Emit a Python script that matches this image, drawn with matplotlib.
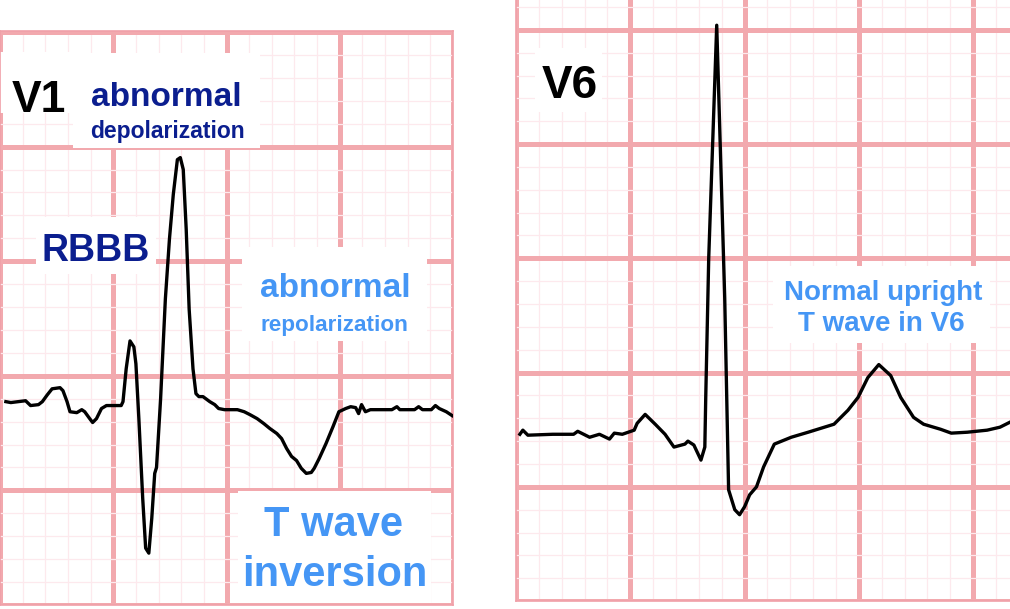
import matplotlib
matplotlib.use("Agg")
import matplotlib.pyplot as plt
from matplotlib.patches import Rectangle
import numpy as np

plt.rcParams['font.family'] = ['Liberation Sans', 'DejaVu Sans']

# ECG traces, in mm of ECG paper (1 small box = 1 mm)
v1_x = [0.26, 0.48, 1.13, 1.35, 1.70, 1.87, 2.09, 2.30, 2.65, 2.78, 2.96, 3.09, 3.39, 3.61,
        3.74, 3.96, 4.09, 4.26, 4.48, 4.70, 5.35, 5.43, 5.57, 5.74, 5.91, 6.00, 6.13, 6.30,
        6.43, 6.57, 6.70, 6.83, 6.91, 7.09, 7.30, 7.48, 7.65, 7.83, 7.96, 8.09, 8.22, 8.35,
        8.52, 8.65, 8.78, 8.96, 9.26, 9.48, 9.65, 9.91, 10.48, 10.78, 11.04, 11.35, 11.65,
        11.91, 12.22, 12.43, 12.65, 12.87, 13.09, 13.30, 13.52, 13.74, 13.87, 14.09, 14.39,
        14.70, 14.96, 15.26, 15.48, 15.70, 15.83, 15.96, 16.13, 16.35, 16.78, 17.30, 17.52,
        17.65, 18.30, 18.48, 18.65, 19.04, 19.22, 19.39, 19.70, 19.96]
v1_y = [8.87, 8.83, 8.91, 8.70, 8.74, 8.87, 9.17, 9.43, 9.48, 9.35, 8.87, 8.43, 8.39, 8.52,
        8.43, 8.13, 7.96, 8.13, 8.57, 8.70, 8.70, 8.87, 10.30, 11.52, 11.26, 10.52, 8.13, 4.65,
        2.48, 2.26, 3.78, 5.74, 6.00, 9.00, 13.35, 15.96, 17.91, 19.43, 19.52, 19.00, 16.39, 12.91,
        10.30, 9.22, 9.09, 9.09, 8.87, 8.74, 8.57, 8.52, 8.52, 8.43, 8.30, 8.13, 7.91,
        7.70, 7.48, 7.26, 6.83, 6.48, 6.30, 5.96, 5.74, 5.78, 5.96, 6.39, 7.04,
        7.78, 8.43, 8.57, 8.65, 8.61, 8.35, 8.74, 8.43, 8.52, 8.52, 8.52, 8.65,
        8.52, 8.52, 8.65, 8.52, 8.52, 8.70, 8.57, 8.43, 8.26]

v6_x = [0.17, 0.30, 0.52, 1.61, 2.52, 2.70, 3.22, 3.65, 4.09, 4.30, 4.65, 5.17, 5.30, 5.65,
        6.09, 6.52, 6.91, 7.39, 7.52, 7.78, 8.09, 8.26, 8.30, 8.43, 8.78, 9.13, 9.30, 9.57,
        9.78, 10.00, 10.22, 10.52, 10.83, 11.30, 12.04, 12.78, 13.91, 14.52, 14.96, 15.39,
        15.87, 16.39, 16.83, 17.39, 17.83, 18.57, 19.04, 19.74, 20.61, 21.17, 21.61]
v6_y = [7.30, 7.48, 7.26, 7.30, 7.30, 7.43, 7.17, 7.30, 7.09, 7.35, 7.30, 7.48, 7.78, 8.17,
        7.74, 7.30, 6.74, 6.87, 7.00, 6.83, 6.17, 6.74, 8.91, 15.00, 25.20, 13.26, 4.87, 4.00,
        3.78, 4.13, 4.65, 5.00, 5.87, 6.87, 7.17, 7.39, 7.74, 8.35, 8.91, 9.78,
        10.35, 9.87, 8.91, 8.04, 7.74, 7.52, 7.35, 7.39, 7.48, 7.61, 7.83]

NAVY = '#0b1e8f'
LIGHT = '#4596f5'
MAJOR = '#f2a9ae'
MINOR = '#fde9ed'

fig = plt.figure(figsize=(10.1, 6.09), dpi=100)
W, H = 1010.0, 609.0
PX = 23.0  # pixels per mm


def panel(x0_px, y0_px, xlim, ylim, spines):
    # x0_px, y0_px: pixel position of the paper origin (mm 0,0), y from top
    left = (x0_px + xlim[0] * PX) / W
    bottom = (H - y0_px + ylim[0] * PX) / H
    ax = fig.add_axes([left, bottom, (xlim[1] - xlim[0]) * PX / W, (ylim[1] - ylim[0]) * PX / H])
    ax.set_xlim(xlim)
    ax.set_ylim(ylim)
    ax.set_xticks(np.arange(0, xlim[1] + 0.1, 5))
    ax.set_yticks(np.arange(0, ylim[1] + 0.1, 5))
    ax.set_xticks(np.arange(0, xlim[1] + 0.1, 1), minor=True)
    ax.set_yticks(np.arange(0, ylim[1] + 0.1, 1), minor=True)
    ax.grid(which='minor', color=MINOR, lw=0.9)
    ax.grid(which='major', color=MAJOR, lw=3.6)
    ax.set_axisbelow(True)
    ax.tick_params(which='both', length=0, labelbottom=False, labelleft=False)
    for s in ax.spines:
        ax.spines[s].set_visible(s in spines)
        ax.spines[s].set_color('#f0a0a8')
        ax.spines[s].set_linewidth(1.2)
    return ax


def white_box(ax, x0, x1, y0, y1):
    ax.add_patch(Rectangle((x0, y0), x1 - x0, y1 - y0, facecolor='white', edgecolor='none', zorder=1))


# left panel: V1
ax1 = panel(-6, 607, (0.26, 19.96), (0.09, 25.04), ['left', 'right', 'top', 'bottom'])
white_box(ax1, 0.0, 3.22, 21.48, 24.13)
white_box(ax1, 3.22, 11.48, 19.96, 24.09)
white_box(ax1, 1.57, 6.87, 14.43, 16.91)
white_box(ax1, 10.70, 18.87, 11.52, 15.61)
white_box(ax1, 10.52, 19.04, 0.09, 4.96)
ax1.plot(v1_x, v1_y, color='black', lw=2.4, solid_joinstyle='round', zorder=3)

ax1.text(1.70, 21.5, 'V1', color='black', fontsize=32, fontweight='bold', ha='center', va='baseline', zorder=4)
ax1.text(7.35, 21.78, 'abnormal', color=NAVY, fontsize=24, fontweight='bold', ha='center', va='baseline', zorder=4)
ax1.text(7.37, 20.39, 'depolarization', color=NAVY, fontsize=16.5, fontweight='bold', ha='center', va='baseline', zorder=4)
ax1.text(4.24, 15.0, 'RBBB', color=NAVY, fontsize=27, fontweight='bold', ha='center', va='baseline', zorder=4)
ax1.text(14.78, 13.43, 'abnormal', color=LIGHT, fontsize=24, fontweight='bold', ha='center', va='baseline', zorder=4)
ax1.text(14.78, 11.96, 'repolarization', color=LIGHT, fontsize=16.2, fontweight='bold', ha='center', va='baseline', zorder=4)
ax1.text(14.72, 3.0, 'T wave', color=LIGHT, fontsize=30, fontweight='bold', ha='center', va='baseline', zorder=4)
ax1.text(14.76, 0.83, 'inversion', color=LIGHT, fontsize=30, fontweight='bold', ha='center', va='baseline', zorder=4)

# right panel: V6
ax2 = panel(513, 605, (0.13, 21.6), (0.17, 26.3), ['left', 'bottom'])
white_box(ax2, 0.83, 3.78, 21.39, 24.22)
white_box(ax2, 11.26, 20.74, 11.30, 14.65)
ax2.plot(v6_x, v6_y, color='black', lw=2.4, solid_joinstyle='round', zorder=3)

ax2.text(2.33, 22.0, 'V6', color='black', fontsize=33, fontweight='bold', ha='center', va='baseline', zorder=4)
ax2.text(16.04, 13.17, 'Normal upright', color=LIGHT, fontsize=20, fontweight='bold', ha='center', va='baseline', zorder=4)
ax2.text(16.0, 11.83, 'T wave in V6', color=LIGHT, fontsize=20, fontweight='bold', ha='center', va='baseline', zorder=4)

fig.savefig('out.png', dpi=100, facecolor='white')
